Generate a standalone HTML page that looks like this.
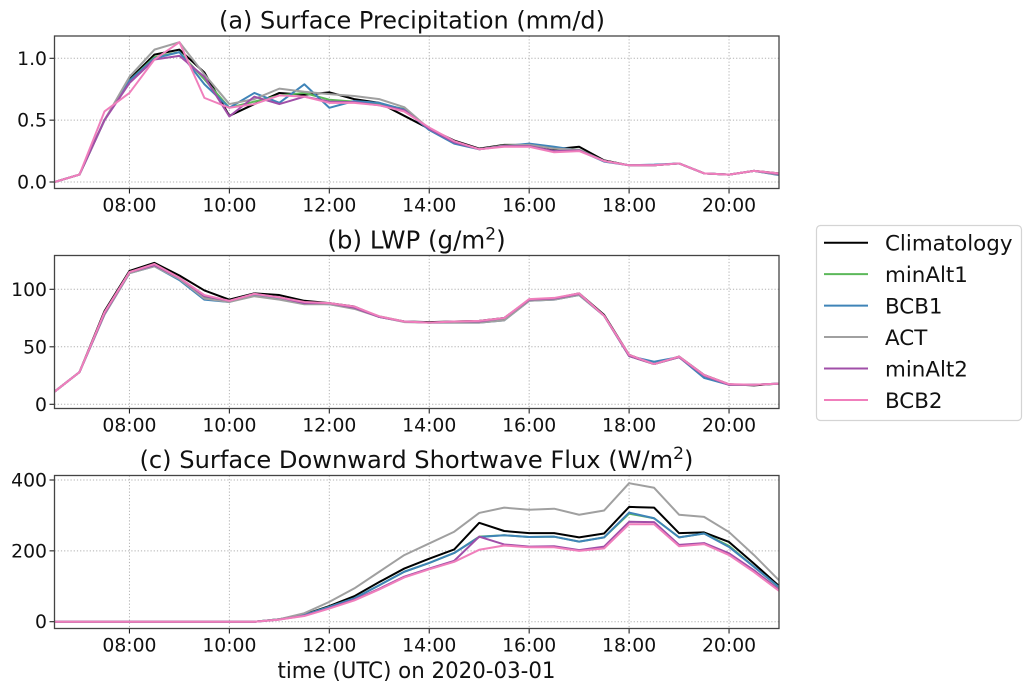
<!DOCTYPE html>
<html lang="en">
<head>
<meta charset="utf-8">
<title>Surface Precipitation, LWP and Shortwave Flux</title>
<style>
html,body{margin:0;padding:0;background:#fff;}
body{width:1033px;height:697px;overflow:hidden;}
svg{display:block;}
text{font-family:"DejaVu Sans","Liberation Sans",sans-serif;fill:#111;}
</style>
</head>
<body>
<svg id="chart" xmlns="http://www.w3.org/2000/svg" width="1033" height="697" viewBox="0 0 1033 697">
  <text x="412" y="28.5" font-size="24" text-anchor="middle" textLength="386" lengthAdjust="spacingAndGlyphs">(a) Surface Precipitation (mm/d)</text>
  <text x="416.5" y="248.5" font-size="24.5" text-anchor="middle">(b) LWP (g/m<tspan font-size="17" dy="-9">2</tspan><tspan dy="9">)</tspan></text>
  <text x="416.5" y="468" font-size="24" text-anchor="middle" textLength="554" lengthAdjust="spacingAndGlyphs">(c) Surface Downward Shortwave Flux (W/m<tspan font-size="17" dy="-9">2</tspan><tspan dy="9">)</tspan></text>
  <text x="416.5" y="678" font-size="22" text-anchor="middle" textLength="278" lengthAdjust="spacingAndGlyphs">time (UTC) on 2020-03-01</text>
  <g id="panels"></g>
  <g id="legend">
    <rect x="816.5" y="225.5" width="205" height="195" rx="4" fill="#fff" stroke="#d4d4d4" stroke-width="1.2"/>
  </g>
</svg>
<script>
const times = ['06:30','07:00','07:30','08:00','08:30','09:00','09:30','10:00','10:30','11:00','11:30','12:00','12:30','13:00','13:30','14:00','14:30','15:00','15:30','16:00','16:30','17:00','17:30','18:00','18:30','19:00','19:30','20:00','20:30','21:00'];
const xTickLabels = ['08:00','10:00','12:00','14:00','16:00','18:00','20:00'];
const seriesNames = ['Climatology','minAlt1','BCB1','ACT','minAlt2','BCB2'];

const precipTicks = [0, 0.5, 1];
const precipTickLabels = ['0.0','0.5','1.0'];
const precipClimatology = [0,0.06,0.50,0.83,1.03,1.07,0.885,0.535,0.63,0.72,0.705,0.725,0.67,0.64,0.535,0.43,0.335,0.27,0.30,0.30,0.265,0.285,0.175,0.135,0.135,0.15,0.07,0.06,0.09,0.07];
const precipMinAlt1 = [0,0.06,0.50,0.82,1.01,1.05,0.83,0.60,0.65,0.70,0.72,0.665,0.65,0.63,0.59,0.43,0.32,0.265,0.295,0.30,0.275,0.26,0.17,0.135,0.135,0.15,0.07,0.06,0.09,0.06];
const precipBCB1 = [0,0.06,0.50,0.82,1.00,1.05,0.79,0.60,0.72,0.64,0.79,0.60,0.655,0.64,0.585,0.42,0.31,0.265,0.29,0.31,0.285,0.255,0.165,0.135,0.14,0.15,0.07,0.06,0.09,0.055];
const precipACT = [0,0.06,0.50,0.85,1.07,1.13,0.87,0.63,0.67,0.755,0.73,0.71,0.695,0.67,0.605,0.43,0.325,0.265,0.295,0.30,0.27,0.26,0.17,0.135,0.135,0.15,0.07,0.06,0.09,0.06];
const precipMinAlt2 = [0,0.06,0.50,0.80,0.99,1.02,0.85,0.53,0.69,0.63,0.69,0.65,0.645,0.62,0.58,0.43,0.32,0.265,0.29,0.29,0.25,0.255,0.17,0.135,0.135,0.15,0.07,0.06,0.09,0.065];
const precipBCB2 = [0,0.06,0.57,0.72,0.99,1.13,0.68,0.60,0.63,0.70,0.69,0.64,0.64,0.62,0.57,0.44,0.33,0.265,0.285,0.285,0.24,0.25,0.17,0.135,0.135,0.15,0.07,0.06,0.09,0.07];

const lwpTicks = [0, 50, 100];
const lwpTickLabels = ['0','50','100'];
const lwpClimatology = [11,28,81,116,123,112,99,91,96.5,95,90,88,85,76,72,71.5,72,72.5,75,91,92,96.5,77.7,43,35,41.5,25.5,17.4,16.5,18];
const lwpMinAlt1 = [11,28,79,115,121,110,93,90,95,93,88,87.5,84,76.5,72,71,71.5,72,74,91,92,96,77,42,35,41,25,17,17,18];
const lwpBCB1 = [11,28,78,114,120,108,91,89,95,92,88,87,84,76,72,71,71,71,73,90,91,95,77,42,37,41,23,17,17,18];
const lwpACT = [11,28,78,114,120,109,92,89,94,91,87,87,83,76,71.5,71,71,71,73,90,91,95,77,42,35,41,25,17,17,18];
const lwpMinAlt2 = [11,28,79,115,121,110,94,90,96,93,88,88,84,76,72,71,72,72,75,91,92,96,77,42,35,41,25,17,17,18];
const lwpBCB2 = [11,28,80,115,122,110,95,90,96,93,89,88,85,76.5,72,71,72,72.5,75,91.5,92.5,96.5,77,43,35,41.5,25.5,17.5,17,18];

const fluxTicks = [0, 200, 400];
const fluxTickLabels = ['0','200','400'];
const fluxClimatology = [0,0,0,0,0,0,0,0,0,7,20,44,72,112,150,178,204,279,256,250,250,238,249,324,322,250,252,225,164,101];
const fluxMinAlt1 = [0,0,0,0,0,0,0,0,0,7,19,42,66,103,141,166,194,240,244,239,240,226,238,305,292,238,249,214,155,97];
const fluxBCB1 = [0,0,0,0,0,0,0,0,0,7,19,42,66,103,141,166,194,239,244,239,240,226,238,308,292,238,249,211,155,98];
const fluxACT = [0,0,0,0,0,0,0,0,0,7,24,56,94,141,188,221,254,307,322,316,319,302,314,391,378,302,296,253,188,117];
const fluxMinAlt2 = [0,0,0,0,0,0,0,0,0,6,17,38,62,93,127,150,172,240,218,212,213,202,212,282,281,217,222,193,145,90];
const fluxBCB2 = [0,0,0,0,0,0,0,0,0,6,16,37,60,91,125,148,169,203,215,210,210,200,207,275,275,213,219,188,140,87];

const SVG_NS = 'http://www.w3.org/2000/svg';
const colors = ['#000000','#5cb85a','#3f84b8','#a0a0a0','#a04fa8','#f07fbc'];
const plotLeft = 54.5, plotRight = 779;

function hours(label) {
  const parts = label.split(':');
  return Number(parts[0]) + Number(parts[1]) / 60;
}
function xScale(label) {
  return plotLeft + (hours(label) - 6.5) / 14.5 * (plotRight - plotLeft);
}
function makeY(zeroPx, refValue, refPx) {
  return function (v) { return zeroPx + v / refValue * (refPx - zeroPx); };
}
function node(tag, attrs, parent) {
  const el = document.createElementNS(SVG_NS, tag);
  for (const k in attrs) el.setAttribute(k, attrs[k]);
  parent.appendChild(el);
  return el;
}

const panels = [
  { id:'precip', top:36, bottom:188.5, yScale:makeY(182,1,58.3), ticks:precipTicks, labels:precipTickLabels,
    series:[precipClimatology,precipMinAlt1,precipBCB1,precipACT,precipMinAlt2,precipBCB2] },
  { id:'lwp', top:255.5, bottom:408.5, yScale:makeY(404.3,100,289.3), ticks:lwpTicks, labels:lwpTickLabels,
    series:[lwpClimatology,lwpMinAlt1,lwpBCB1,lwpACT,lwpMinAlt2,lwpBCB2] },
  { id:'flux', top:475.5, bottom:628.5, yScale:makeY(621.7,400,480), ticks:fluxTicks, labels:fluxTickLabels,
    series:[fluxClimatology,fluxMinAlt1,fluxBCB1,fluxACT,fluxMinAlt2,fluxBCB2] }
];

const root = document.getElementById('panels');
panels.forEach(function (p) {
  const g = node('g', {}, root);
  
  

  const clip = node('clipPath', { id: 'clip-' + p.id }, g);
  node('rect', { x: plotLeft, y: p.top, width: plotRight - plotLeft, height: p.bottom - p.top }, clip);

  xTickLabels.forEach(function (lab) {
    const x = xScale(lab);
    const grid = node('line', { x1:x, x2:x, y1:p.top, y2:p.bottom, stroke:'#b0b0b0', 'stroke-width':1, 'stroke-dasharray':'1.2 2' }, g);
    
    
    const tick = node('line', { x1:x, x2:x, y1:p.bottom, y2:p.bottom + 5, stroke:'#222', 'stroke-width':1.1 }, g);
    
    
    const txt = node('text', { x:x, y:p.bottom + 23, 'font-size':18.8, 'text-anchor':'middle' }, g);
    txt.textContent = lab;
    
    
  });

  p.ticks.forEach(function (v, i) {
    const y = p.yScale(v);
    const grid = node('line', { x1:plotLeft, x2:plotRight, y1:y, y2:y, stroke:'#b0b0b0', 'stroke-width':1, 'stroke-dasharray':'1.2 2' }, g);
    
    
    const tick = node('line', { x1:plotLeft - 5, x2:plotLeft, y1:y, y2:y, stroke:'#222', 'stroke-width':1.1 }, g);
    
    
    const txt = node('text', { x:plotLeft - 7.5, y:y + 6.5, 'font-size':18.8, 'text-anchor':'end' }, g);
    txt.textContent = p.labels[i];
    
    
  });

  p.series.forEach(function (vals, s) {
    const pts = vals.map(function (v, i) {
      return xScale(times[i]).toFixed(2) + ',' + p.yScale(v).toFixed(2);
    }).join(' ');
    const line = node('polyline', { points:pts, fill:'none', stroke:colors[s], 'stroke-width':2, 'stroke-linejoin':'round', 'clip-path':'url(#clip-' + p.id + ')' }, g);
    
    
  });

  const frame = node('rect', { x:plotLeft, y:p.top, width:plotRight - plotLeft, height:p.bottom - p.top, fill:'none', stroke:'#444', 'stroke-width':1.3 }, g);
  
  
});

const legend = document.getElementById('legend');
seriesNames.forEach(function (name, i) {
  const y = 242.7 + i * 31.45;
  const handle = node('line', { x1:824, x2:868, y1:y, y2:y, stroke:colors[i], 'stroke-width':2 }, legend);
  
  
  const label = node('text', { x:885, y:y + 8, 'font-size':21.4 }, legend);
  label.textContent = name;
  
  
});
</script>
</body>
</html>
